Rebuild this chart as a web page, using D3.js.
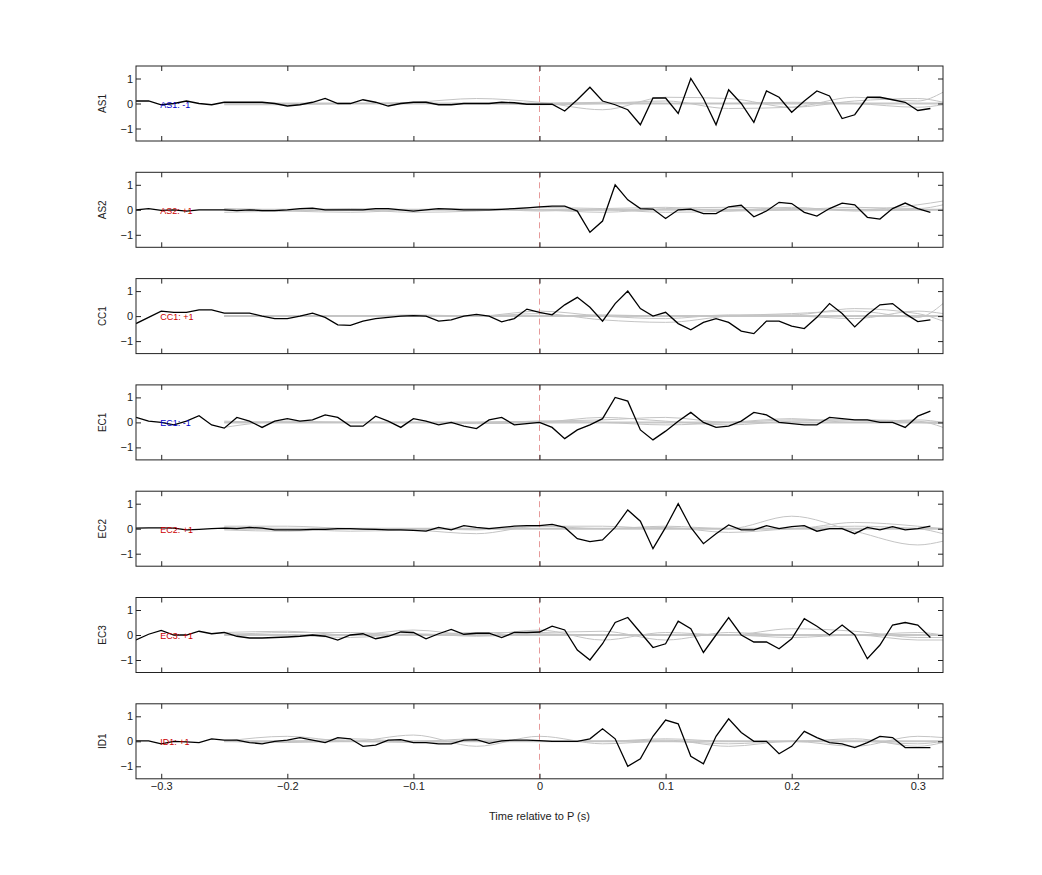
<!DOCTYPE html>
<html><head><meta charset="utf-8">
<script src="https://cdn.jsdelivr.net/npm/d3@7"></script>
<style>body{margin:0;background:#fff}</style></head>
<body><svg id="c" width="1042" height="875"></svg>
<script>
const stations = ["AS1","AS2","CC1","EC1","EC2","EC3","ID1"];
const labels = ["AS1: -1","AS2: +1","CC1: +1","EC1: -1","EC2: +1","EC3: +1","ID1: +1"];
const labelColors = ["#0000cc","#cc0000","#cc0000","#0000cc","#cc0000","#cc0000","#cc0000"];
const xTicks = [-0.3,-0.2,-0.1,0,0.1,0.2,0.3];
const yTicks = [-1,0,1];
const t0 = -0.32, dt = 0.01;
const gt = [-0.25,-0.2,-0.15,-0.1,-0.05,0,0.05,0.1,0.15,0.2,0.25,0.3,0.32];
const AS1 = [0.1,0.1,-0.05,0,0.1,0,-0.05,0.05,0.05,0.05,0.05,0,-0.1,-0.05,0.05,0.2,0,0,0.15,0.05,-0.1,0,0.05,0.05,-0.05,-0.05,0,0,0,0.05,0.03,-0.03,
 -0.03,-0.03,-0.3,0.15,0.65,0.1,-0.05,-0.25,-0.85,0.22,0.22,-0.4,1.0,0.2,-0.85,0.55,0.0,-0.75,0.5,0.25,-0.35,0.1,0.5,0.3,-0.6,-0.45,0.25,0.25,0.15,0.05,-0.28,-0.2];
const AS2 = [0,0.05,-0.02,0,-0.05,0,0,0,-0.03,0,-0.03,-0.03,0,0.05,0.07,0,0,0,0,0.05,0.05,0,-0.05,0,0.05,0.03,0,0,0,0.02,0.05,0.08,
 0.12,0.15,0.15,-0.05,-0.9,-0.45,1.0,0.4,0.05,0.03,-0.35,0.0,0.03,-0.15,-0.15,0.12,0.18,-0.28,-0.05,0.3,0.25,-0.1,-0.25,0.05,0.27,0.2,-0.3,-0.37,0.05,0.27,0.05,-0.1];
const CC1 = [-0.3,-0.05,0.2,0.15,0.15,0.25,0.25,0.12,0.12,0.12,0.0,-0.1,-0.1,0.0,0.12,-0.05,-0.35,-0.37,-0.2,-0.1,-0.05,0.0,0.02,0.0,-0.2,-0.15,0.0,0.07,0.0,-0.23,-0.1,0.28,
 0.15,0.05,0.45,0.75,0.35,-0.2,0.5,1.0,0.3,0.0,0.15,-0.3,-0.55,-0.25,-0.1,-0.25,-0.6,-0.7,-0.2,-0.2,-0.4,-0.5,-0.05,0.5,0.1,-0.43,0.05,0.45,0.5,0.1,-0.22,-0.15];
const EC1 = [0.2,0.05,0.0,-0.1,0.05,0.27,-0.1,-0.23,0.2,0.05,-0.2,0.05,0.15,0.05,0.1,0.3,0.2,-0.15,-0.15,0.25,0.05,-0.2,0.15,0.05,-0.1,0.0,-0.15,-0.25,0.1,0.2,-0.1,-0.05,
 0.0,-0.2,-0.65,-0.3,-0.1,0.15,1.0,0.85,-0.3,-0.7,-0.35,0.05,0.4,0.0,-0.2,-0.15,0.05,0.4,0.3,0.0,-0.05,-0.1,-0.1,0.2,0.15,0.1,0.1,0.0,0.0,-0.2,0.25,0.45];
const EC2 = [0.02,0.03,0.03,0.02,-0.05,-0.03,0,0.02,0,0.05,0.02,-0.05,-0.05,-0.05,-0.03,-0.03,0,0,-0.02,-0.03,-0.05,-0.05,-0.07,-0.1,0.05,-0.05,0.12,0.05,0.0,0.05,0.1,0.12,
 0.12,0.17,0.05,-0.4,-0.52,-0.45,0.05,0.75,0.3,-0.8,0.05,1.0,0.05,-0.6,-0.2,0.15,-0.05,-0.05,0.12,0.0,0.08,0.12,-0.1,0.0,0.0,-0.2,0.05,-0.05,0.08,-0.05,0.0,0.1];
const EC3 = [-0.2,0.03,0.18,0.0,0.0,0.15,0.05,0.1,-0.05,-0.12,-0.12,-0.1,-0.08,-0.05,0.0,-0.05,-0.2,0.0,0.05,-0.15,-0.05,0.12,0.1,-0.15,0.05,0.22,0.03,0.07,0.07,-0.1,0.1,0.1,
 0.12,0.35,0.2,-0.6,-1.0,-0.35,0.5,0.7,0.1,-0.5,-0.35,0.55,0.25,-0.7,0.0,0.7,0.0,-0.28,-0.28,-0.55,-0.15,0.65,0.35,0.0,0.4,0.0,-0.95,-0.4,0.4,0.5,0.4,-0.1];
const ID1 = [0.02,0.02,-0.1,0,-0.02,-0.05,0.1,0.05,0.05,-0.05,-0.1,0.0,0.05,0.15,0.05,-0.05,0.15,0.1,-0.2,-0.15,0.05,0.07,-0.05,-0.05,-0.1,-0.1,0.05,0.07,-0.08,0.02,0.05,0.05,
 0.03,0.0,0.0,0.0,0.1,0.5,0.1,-1.0,-0.7,0.2,0.85,0.7,-0.6,-0.9,0.2,0.9,0.35,0.0,0.0,-0.5,-0.2,0.4,0.15,-0.05,-0.1,-0.25,-0.05,0.2,0.15,-0.25,-0.25,-0.25];
const blackSeries = [AS1,AS2,CC1,EC1,EC2,EC3,ID1];
// gray comparison traces (sampled at gt)
const grayAS1 = [[0,0,0,0.05,0.2,0.05,-0.25,0.25,0.2,-0.15,0.1,0.2,0.05],[-0.05,-0.05,0,0,0,-0.05,0,0.1,-0.2,-0.15,0.25,0.1,0.45],[0,0,0,0,0,0,0.05,0,0,0.05,0,-0.15,-0.05]];
const grayAS2 = [[-0.1,-0.05,0,-0.1,-0.05,0.1,0.05,0.1,-0.05,0,0.1,0.05,0.2],[0.05,0,0.05,0,0.05,0,-0.1,0.05,0.1,0.05,0,0.2,0.35],[0,-0.05,-0.1,0,0.05,-0.05,0,-0.1,-0.05,0.1,-0.05,0,0]];
const grayCC1 = [[0,0,0,0.05,0,0.1,-0.15,-0.25,0,0.1,0.2,-0.05,0.5],[0,0,0,0,0,0.2,0,-0.1,0.05,0.05,0.3,0.1,-0.2],[0,0,0,0,0,0,0.05,0,0,0,-0.1,0.2,0.1]];
const grayEC1 = [[-0.2,0.05,0,0,0,0.05,0.1,0.2,0,0.1,0.1,0.05,-0.2],[0.05,0,0,0,-0.05,0,0.2,0.05,-0.1,0.05,0.1,0,-0.05],[0,0,0,0,0,0.05,0,-0.1,0,0.15,0,0.1,0]];
const grayEC2 = [[0.1,0.1,0,-0.05,-0.2,0.1,0.1,0,0,0.5,-0.1,-0.65,-0.5],[-0.05,-0.1,0,0,-0.05,0.1,0,0.1,0,0,0.25,0.1,0],[0.05,0,-0.1,-0.05,0,0,0,0.05,-0.15,0,0.1,0,-0.2]];
const grayEC3 = [[0.1,0.15,0,0.2,0,0.2,-0.2,0.1,0,0.25,0.15,-0.1,-0.1],[0,0.1,0.1,0,0.1,0.1,0.15,-0.2,0.1,0,0,0.1,0],[0.05,0,-0.1,0.05,-0.05,0.05,0,0,0,-0.1,0,-0.2,-0.2]];
const grayID1 = [[0,0.2,0,0.25,-0.2,0.2,-0.1,0,-0.1,0,-0.2,0.2,0.15],[0,0,0.1,0,0.1,0,0,0.05,-0.2,0,0,-0.1,0],[0,-0.05,0,-0.05,0,0,0,0.1,0,0,0.1,-0.2,-0.05]];
const graySeries = [grayAS1,grayAS2,grayCC1,grayEC1,grayEC2,grayEC3,grayID1];

const svg = d3.select("#c");
const left = 136, right = 943, top0 = 66, ph = 75, gap = 106.3;
const x = d3.scaleLinear().domain([-0.32,0.32]).range([left,right]);
const font = "Liberation Sans, Arial, sans-serif";
stations.forEach((st,k)=>{
  const top = top0 + k*gap;
  const y = d3.scaleLinear().domain([-1.5,1.5]).range([top+ph, top]);
  const g = svg.append("g");
  const clip = "clip"+k;
  svg.append("clipPath").attr("id",clip).append("rect").attr("x",left).attr("y",top).attr("width",right-left).attr("height",ph);
  const pg = g.append("g").attr("clip-path",`url(#${clip})`);
  // zero reference
  pg.append("line").attr("x1",x(-0.25)).attr("x2",right).attr("y1",y(0)).attr("y2",y(0)).attr("stroke","#c8c8c8").attr("stroke-width",2);
  const gl = d3.line().x((d,i)=>x(gt[i])).y(d=>y(d)).curve(d3.curveMonotoneX);
  graySeries[k].forEach(s=>pg.append("path").attr("d",gl(s)).attr("fill","none").attr("stroke","#c4c4c4").attr("stroke-width",1));
  pg.append("line").attr("x1",x(0)).attr("x2",x(0)).attr("y1",top).attr("y2",top+ph).attr("stroke","#e08080").attr("stroke-dasharray","6,4").attr("stroke-width",0.8);
  const bl = d3.line().x((d,i)=>x(t0+i*dt)).y(d=>y(d));
  pg.append("path").attr("d",bl(blackSeries[k])).attr("fill","none").attr("stroke","#000").attr("stroke-width",1.3);
  g.append("text").attr("x",x(-0.30)-1).attr("y",y(0)+4).attr("font-family",font).attr("font-size",9).attr("fill",labelColors[k]).text(labels[k]);
  // axes
  const ax = g.append("g").attr("font-family",font);
  ax.append("g").attr("transform",`translate(0,${top+ph})`).call(d3.axisBottom(x).tickValues(xTicks).tickSizeInner(-5).tickSizeOuter(0).tickFormat(k===6?d3.format(""):""));
  ax.append("g").attr("transform",`translate(0,${top})`).call(d3.axisTop(x).tickValues(xTicks).tickSizeInner(-5).tickSizeOuter(0).tickFormat(""));
  ax.append("g").attr("transform",`translate(${left},0)`).call(d3.axisLeft(y).tickValues(yTicks).tickSizeInner(-5).tickSizeOuter(0).tickFormat(d3.format("")));
  ax.append("g").attr("transform",`translate(${right},0)`).call(d3.axisRight(y).tickValues(yTicks).tickSizeInner(-5).tickSizeOuter(0).tickFormat(""));
  ax.selectAll(".domain").remove();
  ax.selectAll("text").attr("font-size",11).attr("fill","#222");
  ax.selectAll("line").attr("stroke","#222");
  g.append("rect").attr("x",left).attr("y",top).attr("width",right-left).attr("height",ph).attr("fill","none").attr("stroke","#222").attr("stroke-width",1);
  g.append("text").attr("transform",`translate(106,${y(0)}) rotate(-90)`).attr("text-anchor","middle").attr("font-family",font).attr("font-size",10).attr("fill","#222").text(st);
});
svg.selectAll(".tick text").each(function(){ if(this.parentNode.parentNode) {} });
svg.append("text").attr("x",(left+right)/2).attr("y",820).attr("text-anchor","middle").attr("font-family",font).attr("font-size",11).attr("fill","#222").text("Time relative to P (s)");
</script></body></html>
